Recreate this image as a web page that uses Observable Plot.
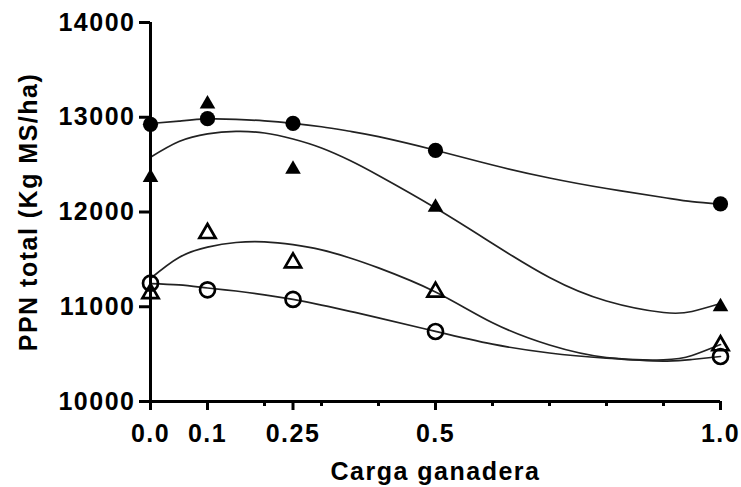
<!DOCTYPE html>
<html>
<head>
<meta charset="utf-8">
<script src="https://cdn.jsdelivr.net/npm/d3@7"></script>
<script src="https://cdn.jsdelivr.net/npm/@observablehq/plot@0.6"></script>
<style>
  body { margin: 0; background: #fff; }
</style>
</head>
<body>
<div id="chart"></div>
<script>
// Observed points (x = carga ganadera)
const xValues = [0, 0.1, 0.25, 0.5, 1.0];
const filledCircles   = [12925, 12985, 12935, 12650, 12085];
const filledTriangles = [12365, 13140, 12450, 12050, 11000];
const openTriangles   = [11140, 11775, 11465, 11156, 10590];
const openCircles     = [11249, 11179, 11077, 10739, 10475];

// Fitted curves
const curveX = [0, 0.05, 0.1, 0.15, 0.2, 0.25, 0.3, 0.35, 0.4, 0.5, 0.6, 0.7, 0.8, 0.9, 0.95, 1.0];
const curveFilledCircles   = [12934, 12960, 12982, 12978, 12962, 12936, 12900, 12852, 12795, 12652, 12496, 12359, 12248, 12153, 12109, 12084];
const curveFilledTriangles = [12578, 12744, 12825, 12850, 12834, 12770, 12675, 12543, 12385, 12042, 11668, 11309, 11061, 10939, 10950, 11034];
const curveOpenTriangles   = [11298, 11520, 11629, 11678, 11685, 11655, 11600, 11515, 11410, 11156, 10831, 10596, 10464, 10440, 10485, 10601];
const curveOpenCircles     = [11245, 11230, 11198, 11166, 11126, 11077, 11018, 10952, 10883, 10740, 10605, 10512, 10458, 10427, 10443, 10475];

// Axes
const yTicks = [10000, 11000, 12000, 13000, 14000];
const xMajorTicks = [0, 0.1, 0.25, 0.5, 1.0];
const xTickLabels = ["0.0", "0.1", "0.25", "0.5", "1.0"];
const xMinorTicks = [0.2, 0.3, 0.4, 0.6, 0.7, 0.8, 0.9];
const xTitle = "Carga ganadera";
const yTitle = "PPN total (Kg MS/ha)";

const pts = (vals) => xValues.map((x, i) => ({x, y: vals[i]}));
const curves = [
  ["fc", curveFilledCircles], ["ft", curveFilledTriangles],
  ["ot", curveOpenTriangles], ["oc", curveOpenCircles]
].flatMap(([s, vals]) => curveX.map((x, i) => ({s, x, y: vals[i]})));

const labelMap = new Map(xMajorTicks.map((t, i) => [t, xTickLabels[i]]));

const chart = Plot.plot({
  width: 741,
  height: 487,
  marginLeft: 150,
  marginRight: 21,
  marginTop: 22,
  marginBottom: 86,
  x: {domain: [0, 1]},
  y: {domain: [10000, 14000]},
  style: {
    fontFamily: "'Liberation Sans', Arial, sans-serif",
    fontWeight: "bold",
    letterSpacing: "1.5px",
    color: "#000",
    background: "#fff"
  },
  marks: [
    Plot.line(curves, {x: "x", y: "y", z: "s", curve: "natural", stroke: "#222", strokeWidth: 1.7}),
    Plot.ruleX([0], {stroke: "#000", strokeWidth: 3}),
    Plot.ruleY([10000], {stroke: "#000", strokeWidth: 3}),
    Plot.axisY(yTicks, {tickSize: 11, tickPadding: 4, tickFormat: d => String(d), strokeWidth: 3, label: null, fontSize: 25, fontWeight: "bold"}),
    Plot.axisX(xMajorTicks, {tickSize: 9, tickPadding: 14, tickFormat: d => labelMap.get(d), strokeWidth: 3, label: null, fontSize: 25, fontWeight: "bold"}),
    Plot.axisX(xMinorTicks, {tickSize: 5, tickPadding: 0, tickFormat: () => "", strokeWidth: 3, label: null}),
    Plot.dot(pts(openCircles), {x: "x", y: "y", r: 7.5, fill: "none", stroke: "#000", strokeWidth: 2.7}),
    Plot.dot(pts(openTriangles), {x: "x", y: "y", r: 6, symbol: "triangle", fill: "none", stroke: "#000", strokeWidth: 2.7}),
    Plot.dot(pts(filledTriangles), {x: "x", y: "y", r: 5.8, symbol: "triangle", fill: "#000", stroke: "none"}),
    Plot.dot(pts(filledCircles), {x: "x", y: "y", r: 7.6, fill: "#000", stroke: "none"}),
    Plot.text([xTitle], {text: d => d, frameAnchor: "bottom", dy: 61, lineAnchor: "top", fontSize: 25, fontWeight: "bold", fill: "#000"}),
    Plot.text([yTitle], {text: d => d, frameAnchor: "left", textAnchor: "middle", rotate: -90, dx: -122, lineAnchor: "middle", fontSize: 25, fontWeight: "bold", fill: "#000"})
  ]
});
document.getElementById("chart").appendChild(chart);
</script>
</body>
</html>
